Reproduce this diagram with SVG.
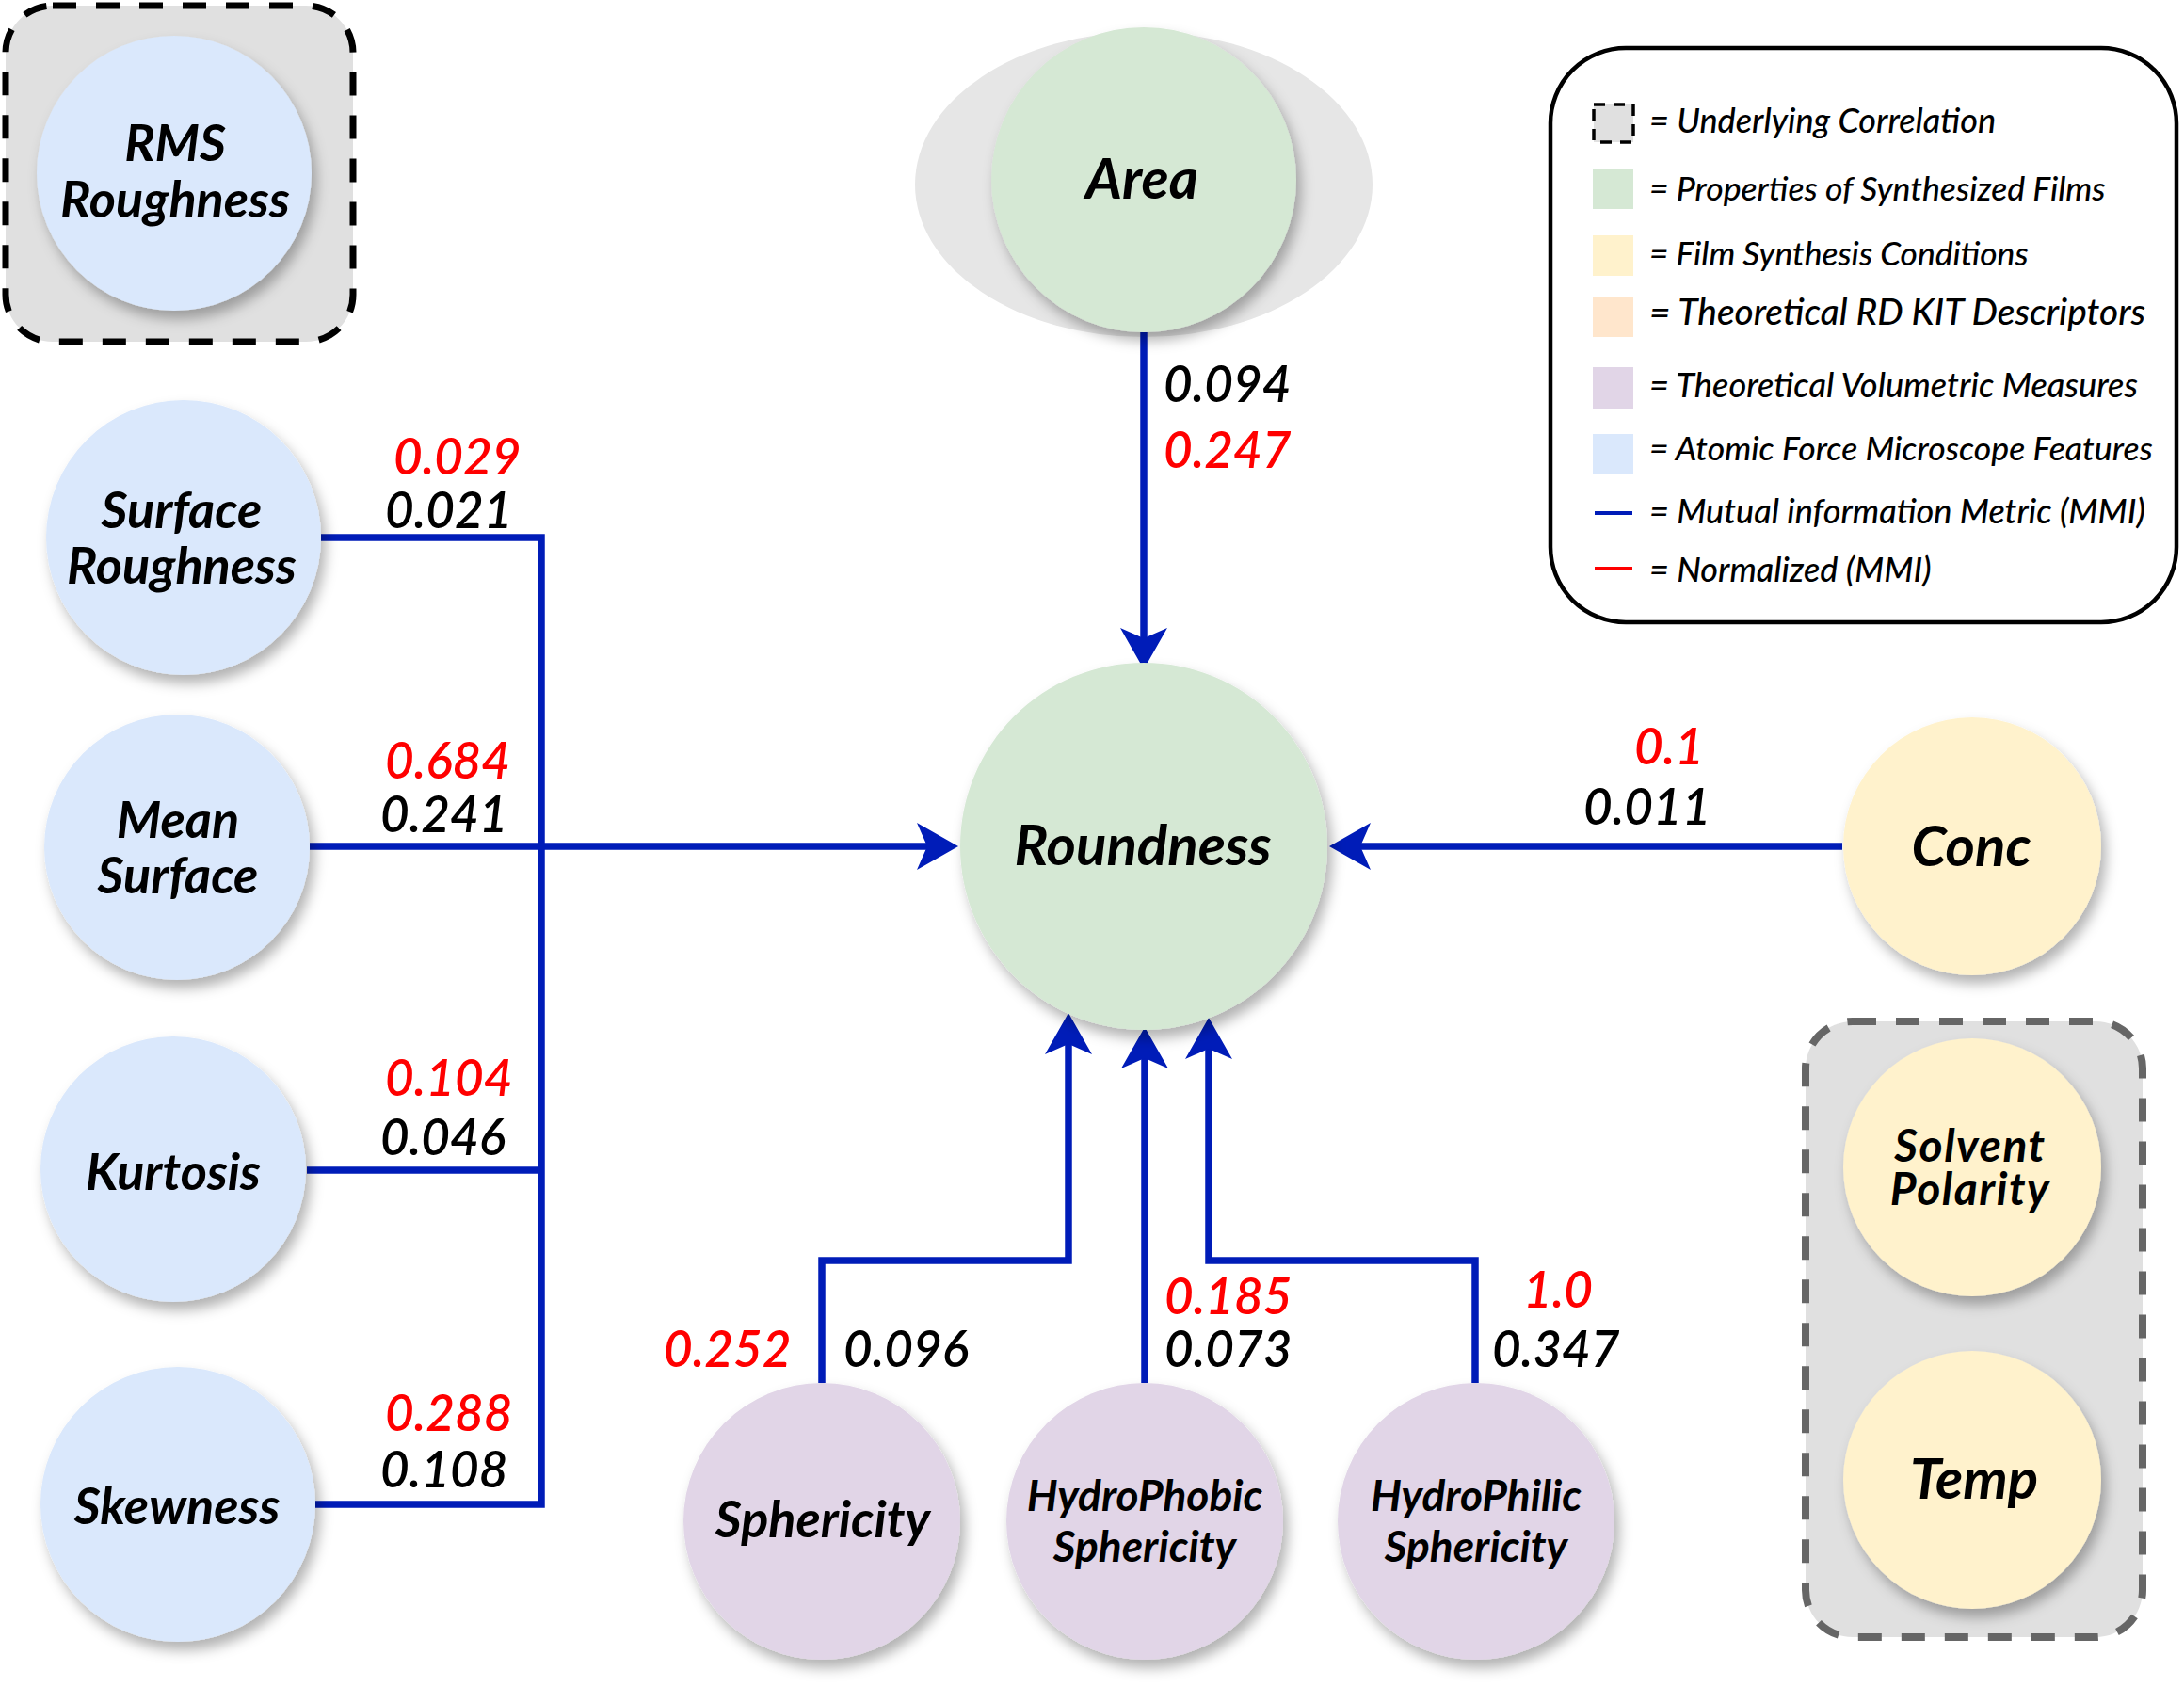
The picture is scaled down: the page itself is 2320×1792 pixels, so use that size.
<svg xmlns="http://www.w3.org/2000/svg" width="2320" height="1792" viewBox="0 0 2320 1792">
<style>
text{font-family:Lato,Carlito,"Liberation Sans",sans-serif;font-style:italic;fill:#000}
.nl{font-size:54px;font-weight:700;text-anchor:middle}
.nb{font-size:60px;font-weight:700;text-anchor:middle}
.ns{font-size:46px;font-weight:700;text-anchor:middle}
.sp{font-size:48px;font-weight:700;text-anchor:middle;letter-spacing:1.5px}
.num{font-size:53px;font-weight:600}
.red{fill:#ff0000}
.lg{font-size:36px;font-weight:500}
.afm{fill:#dae8fc}
.film{fill:#d5e8d4}
.cond{fill:#fff2cc}
.vol{fill:#e1d5e7}
.conn{fill:none;stroke:#001cb8;stroke-width:7.5}
.grp{fill:#e0e0e0;stroke-dasharray:25 21}
</style>
<defs>
<filter id="sh" x="-20%" y="-20%" width="150%" height="150%">
<feDropShadow dx="5" dy="9" stdDeviation="7" flood-color="#000" flood-opacity="0.3"/>
</filter>
<marker id="ah" markerUnits="userSpaceOnUse" markerWidth="46" markerHeight="52" viewBox="0 0 46 52" refX="11" refY="26" orient="auto">
<path d="M0,1 L44,26 L0,51 L11,26 Z" fill="#001cb8"/>
</marker>
</defs>
<rect width="2320" height="1792" fill="#fff"/>

<g id="group-rms">
<rect x="6" y="6" width="369" height="357" rx="50" class="grp" stroke="#000" stroke-width="7"/>
</g>
<g id="group-solvent-temp">
<rect x="1918" y="1085" width="358" height="654" rx="50" class="grp" stroke="#666" stroke-width="8"/>
</g>
<g id="area-underlay">
<ellipse cx="1215" cy="196" rx="243" ry="162" fill="#e6e6e6"/>
</g>

<g id="connectors">
<path class="conn" d="M341,571 H575 V1598 H335"/>
<path class="conn" d="M326,1243 H575"/>
<path class="conn" d="M329,899 H985" marker-end="url(#ah)"/>
<path class="conn" d="M1215,353 V678" marker-end="url(#ah)"/>
<path class="conn" d="M1957,899 H1445" marker-end="url(#ah)"/>
<path class="conn" d="M873,1469 V1339 H1135 V1109" marker-end="url(#ah)"/>
<path class="conn" d="M1216,1469 V1124" marker-end="url(#ah)"/>
<path class="conn" d="M1567,1469 V1339 H1284 V1114" marker-end="url(#ah)"/>
</g>

<g id="node-rms">
<circle cx="185" cy="184" r="146" class="afm" filter="url(#sh)"/>
<text class="nl" x="186" y="171">RMS</text>
<text class="nl" x="186" y="231">Roughness</text>
</g>
<g id="node-surface-roughness">
<circle cx="195" cy="571" r="146" class="afm" filter="url(#sh)"/>
<text class="nl" x="193" y="561">Surface</text>
<text class="nl" x="193" y="620">Roughness</text>
</g>
<g id="node-mean-surface">
<circle cx="188" cy="900" r="141" class="afm" filter="url(#sh)"/>
<text class="nl" x="189" y="890">Mean</text>
<text class="nl" x="189" y="949">Surface</text>
</g>
<g id="node-kurtosis">
<circle cx="184" cy="1242" r="141" class="afm" filter="url(#sh)"/>
<text class="nl" x="184" y="1264">Kurtosis</text>
</g>
<g id="node-skewness">
<circle cx="189" cy="1598" r="146" class="afm" filter="url(#sh)"/>
<text class="nl" x="188" y="1619">Skewness</text>
</g>
<g id="node-area">
<circle cx="1215" cy="191" r="162" class="film" filter="url(#sh)"/>
<text class="nb" x="1213" y="211">Area</text>
</g>
<g id="node-roundness">
<circle cx="1215" cy="899" r="195" class="film" filter="url(#sh)"/>
<text class="nb" x="1214" y="919">Roundness</text>
</g>
<g id="node-conc">
<circle cx="2095" cy="899" r="137" class="cond" filter="url(#sh)"/>
<text class="nb" x="2094" y="920">Conc</text>
</g>
<g id="node-solvent-polarity">
<circle cx="2095" cy="1240" r="137" class="cond" filter="url(#sh)"/>
<text class="sp" x="2093" y="1234">Solvent</text>
<text class="sp" x="2093" y="1280">Polarity</text>
</g>
<g id="node-temp">
<circle cx="2095" cy="1572" r="137" class="cond" filter="url(#sh)"/>
<text class="nb" x="2097" y="1592">Temp</text>
</g>
<g id="node-sphericity">
<circle cx="873" cy="1616" r="147" class="vol" filter="url(#sh)"/>
<text class="nl" x="874" y="1633">Sphericity</text>
</g>
<g id="node-hydrophobic">
<circle cx="1216" cy="1616" r="147" class="vol" filter="url(#sh)"/>
<text class="ns" x="1216" y="1605">HydroPhobic</text>
<text class="ns" x="1216" y="1659">Sphericity</text>
</g>
<g id="node-hydrophilic">
<circle cx="1568" cy="1616" r="147" class="vol" filter="url(#sh)"/>
<text class="ns" x="1568" y="1605">HydroPhilic</text>
<text class="ns" x="1568" y="1659">Sphericity</text>
</g>

<g id="edge-labels">
<text class="num red" x="418" y="504">0.029</text>
<text class="num" x="409" y="561">0.021</text>
<text class="num red" x="409" y="827">0.684</text>
<text class="num" x="404" y="884">0.241</text>
<text class="num red" x="409" y="1164">0.104</text>
<text class="num" x="404" y="1227">0.046</text>
<text class="num red" x="409" y="1520">0.288</text>
<text class="num" x="404" y="1580">0.108</text>
<text class="num" x="1236" y="427">0.094</text>
<text class="num red" x="1236" y="497">0.247</text>
<text class="num red" x="1736" y="812">0.1</text>
<text class="num" x="1682" y="876">0.011</text>
<text class="num red" x="705" y="1452">0.252</text>
<text class="num" x="896" y="1452">0.096</text>
<text class="num red" x="1237" y="1396">0.185</text>
<text class="num" x="1237" y="1452">0.073</text>
<text class="num red" x="1618" y="1389">1.0</text>
<text class="num" x="1585" y="1452">0.347</text>
</g>

<g id="legend">
<rect x="1647" y="51" width="665" height="610" rx="80" fill="#fff" stroke="#000" stroke-width="4.5"/>
<rect x="1693" y="111" width="42" height="40" fill="#e0e0e0" stroke="#000" stroke-width="3.5" stroke-dasharray="12 9"/>
<rect x="1692" y="179" width="43" height="43" fill="#d5e8d4"/>
<rect x="1692" y="250" width="43" height="43" fill="#fff2cc"/>
<rect x="1692" y="315" width="43" height="43" fill="#ffe6cc"/>
<rect x="1692" y="390" width="43" height="44" fill="#e1d5e7"/>
<rect x="1692" y="461" width="43" height="43" fill="#dae8fc"/>
<line x1="1694" y1="545" x2="1734" y2="545" stroke="#001cb8" stroke-width="4"/>
<line x1="1694" y1="604" x2="1734" y2="604" stroke="#ff0000" stroke-width="4"/>
<text class="lg" x="1752" y="141">= Underlying Correlation</text>
<text class="lg" x="1752" y="213" style="font-size:35.5px">= Properties of Synthesized Films</text>
<text class="lg" x="1752" y="282" style="font-size:35.3px">= Film Synthesis Conditions</text>
<text class="lg" x="1752" y="345" style="font-size:38.8px">= Theoretical RD KIT Descriptors</text>
<text class="lg" x="1752" y="422" style="font-size:36.2px">= Theoretical Volumetric Measures</text>
<text class="lg" x="1752" y="489" style="font-size:35.6px">= Atomic Force Microscope Features</text>
<text class="lg" x="1752" y="556">= Mutual information Metric (MMI)</text>
<text class="lg" x="1752" y="618">= Normalized (MMI)</text>
</g>
</svg>
